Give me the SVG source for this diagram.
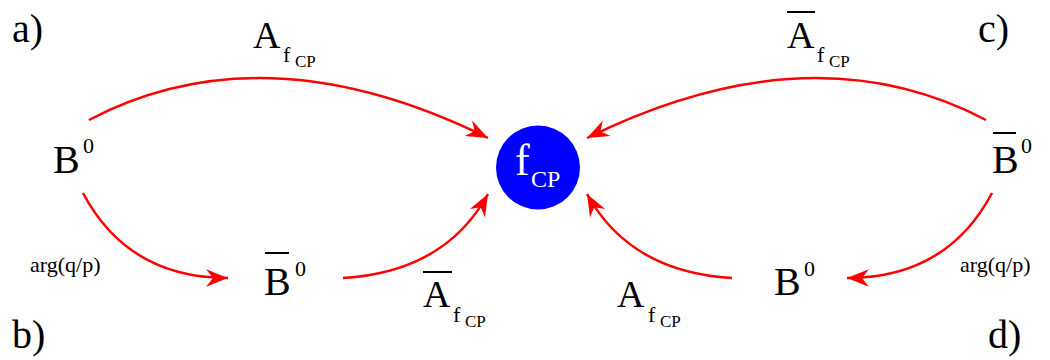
<svg xmlns="http://www.w3.org/2000/svg" width="1050" height="360" viewBox="0 0 1050 360" font-family="'Times New Roman', 'Liberation Serif', Times, 'DejaVu Serif', serif">
<style>
text{font-family:'Times New Roman','Liberation Serif',Times,'DejaVu Serif',serif;fill:#000}
.big{font-size:40px}
.sup{font-size:22px}
.amp{font-size:38px}
.sf{font-size:22px}
.scp{font-size:17px}
.arg{font-size:22px}
.conn{fill:none;stroke:#ff0000;stroke-width:2.5}
.bar{fill:#000}
</style>
<defs>
<marker id="ah" markerUnits="userSpaceOnUse" markerWidth="30" markerHeight="30" viewBox="-22 -12 26 24" refX="0" refY="0" orient="auto">
<path d="M0,0 L-19,-7.5 L-13,0 L-19,7.5 Z" fill="#ff0000"/>
</marker>
</defs>
<rect width="1050" height="360" fill="#fff"/>
<g id="panel-labels">
<text class="big" x="12" y="42">a)</text>
<text class="big" x="12" y="348">b)</text>
<text class="big" x="978" y="42">c)</text>
<text class="big" x="988" y="348">d)</text>
</g>
<g id="connectors">
<path class="conn" d="M89,120 Q265,28 488,138" marker-end="url(#ah)"/>
<path class="conn" d="M986,120 Q810,28 587,138" marker-end="url(#ah)"/>
<path class="conn" d="M83,193 Q128,278 228,278" marker-end="url(#ah)"/>
<path class="conn" d="M992,193 Q947,278 847,278" marker-end="url(#ah)"/>
<path class="conn" d="M343,278 Q445,272 488,194" marker-end="url(#ah)"/>
<path class="conn" d="M732,278 Q630,272 587,194" marker-end="url(#ah)"/>
</g>
<g id="fcp">
<circle cx="538" cy="167.5" r="42" fill="#0000ff"/>
<text x="515" y="175" style="font-size:44px;fill:#fff">f</text>
<text x="531" y="187" style="font-size:24px;fill:#fff">CP</text>
</g>
<g id="b0-a">
<text class="big" x="53" y="173">B</text>
<text class="sup" x="83" y="153">0</text>
</g>
<g id="b0bar-c">
<rect class="bar" x="993" y="132" width="23" height="2"/>
<text class="big" x="992" y="173">B</text>
<text class="sup" x="1021" y="153">0</text>
</g>
<g id="b0bar-b">
<rect class="bar" x="265" y="252" width="24" height="2"/>
<text class="big" x="264" y="295">B</text>
<text class="sup" x="295" y="276">0</text>
</g>
<g id="b0-d">
<text class="big" x="774" y="295">B</text>
<text class="sup" x="804" y="276">0</text>
</g>
<g id="arg-b">
<text class="arg" x="30" y="272">arg(q/p)</text>
</g>
<g id="arg-d">
<text class="arg" x="960" y="272">arg(q/p)</text>
</g>
<g id="amp-a">
<text class="amp" x="253" y="48">A</text>
<text class="sf" x="283" y="62">f</text>
<text class="scp" x="295" y="67">CP</text>
</g>
<g id="ampbar-c">
<rect class="bar" x="787" y="11" width="28" height="2"/>
<text class="amp" x="787" y="48">A</text>
<text class="sf" x="817" y="62">f</text>
<text class="scp" x="829" y="67">CP</text>
</g>
<g id="ampbar-b">
<rect class="bar" x="423" y="271" width="29" height="2"/>
<text class="amp" x="423" y="307">A</text>
<text class="sf" x="453" y="322">f</text>
<text class="scp" x="465" y="327">CP</text>
</g>
<g id="amp-d">
<text class="amp" x="617" y="307">A</text>
<text class="sf" x="648" y="322">f</text>
<text class="scp" x="660" y="327">CP</text>
</g>
</svg>
